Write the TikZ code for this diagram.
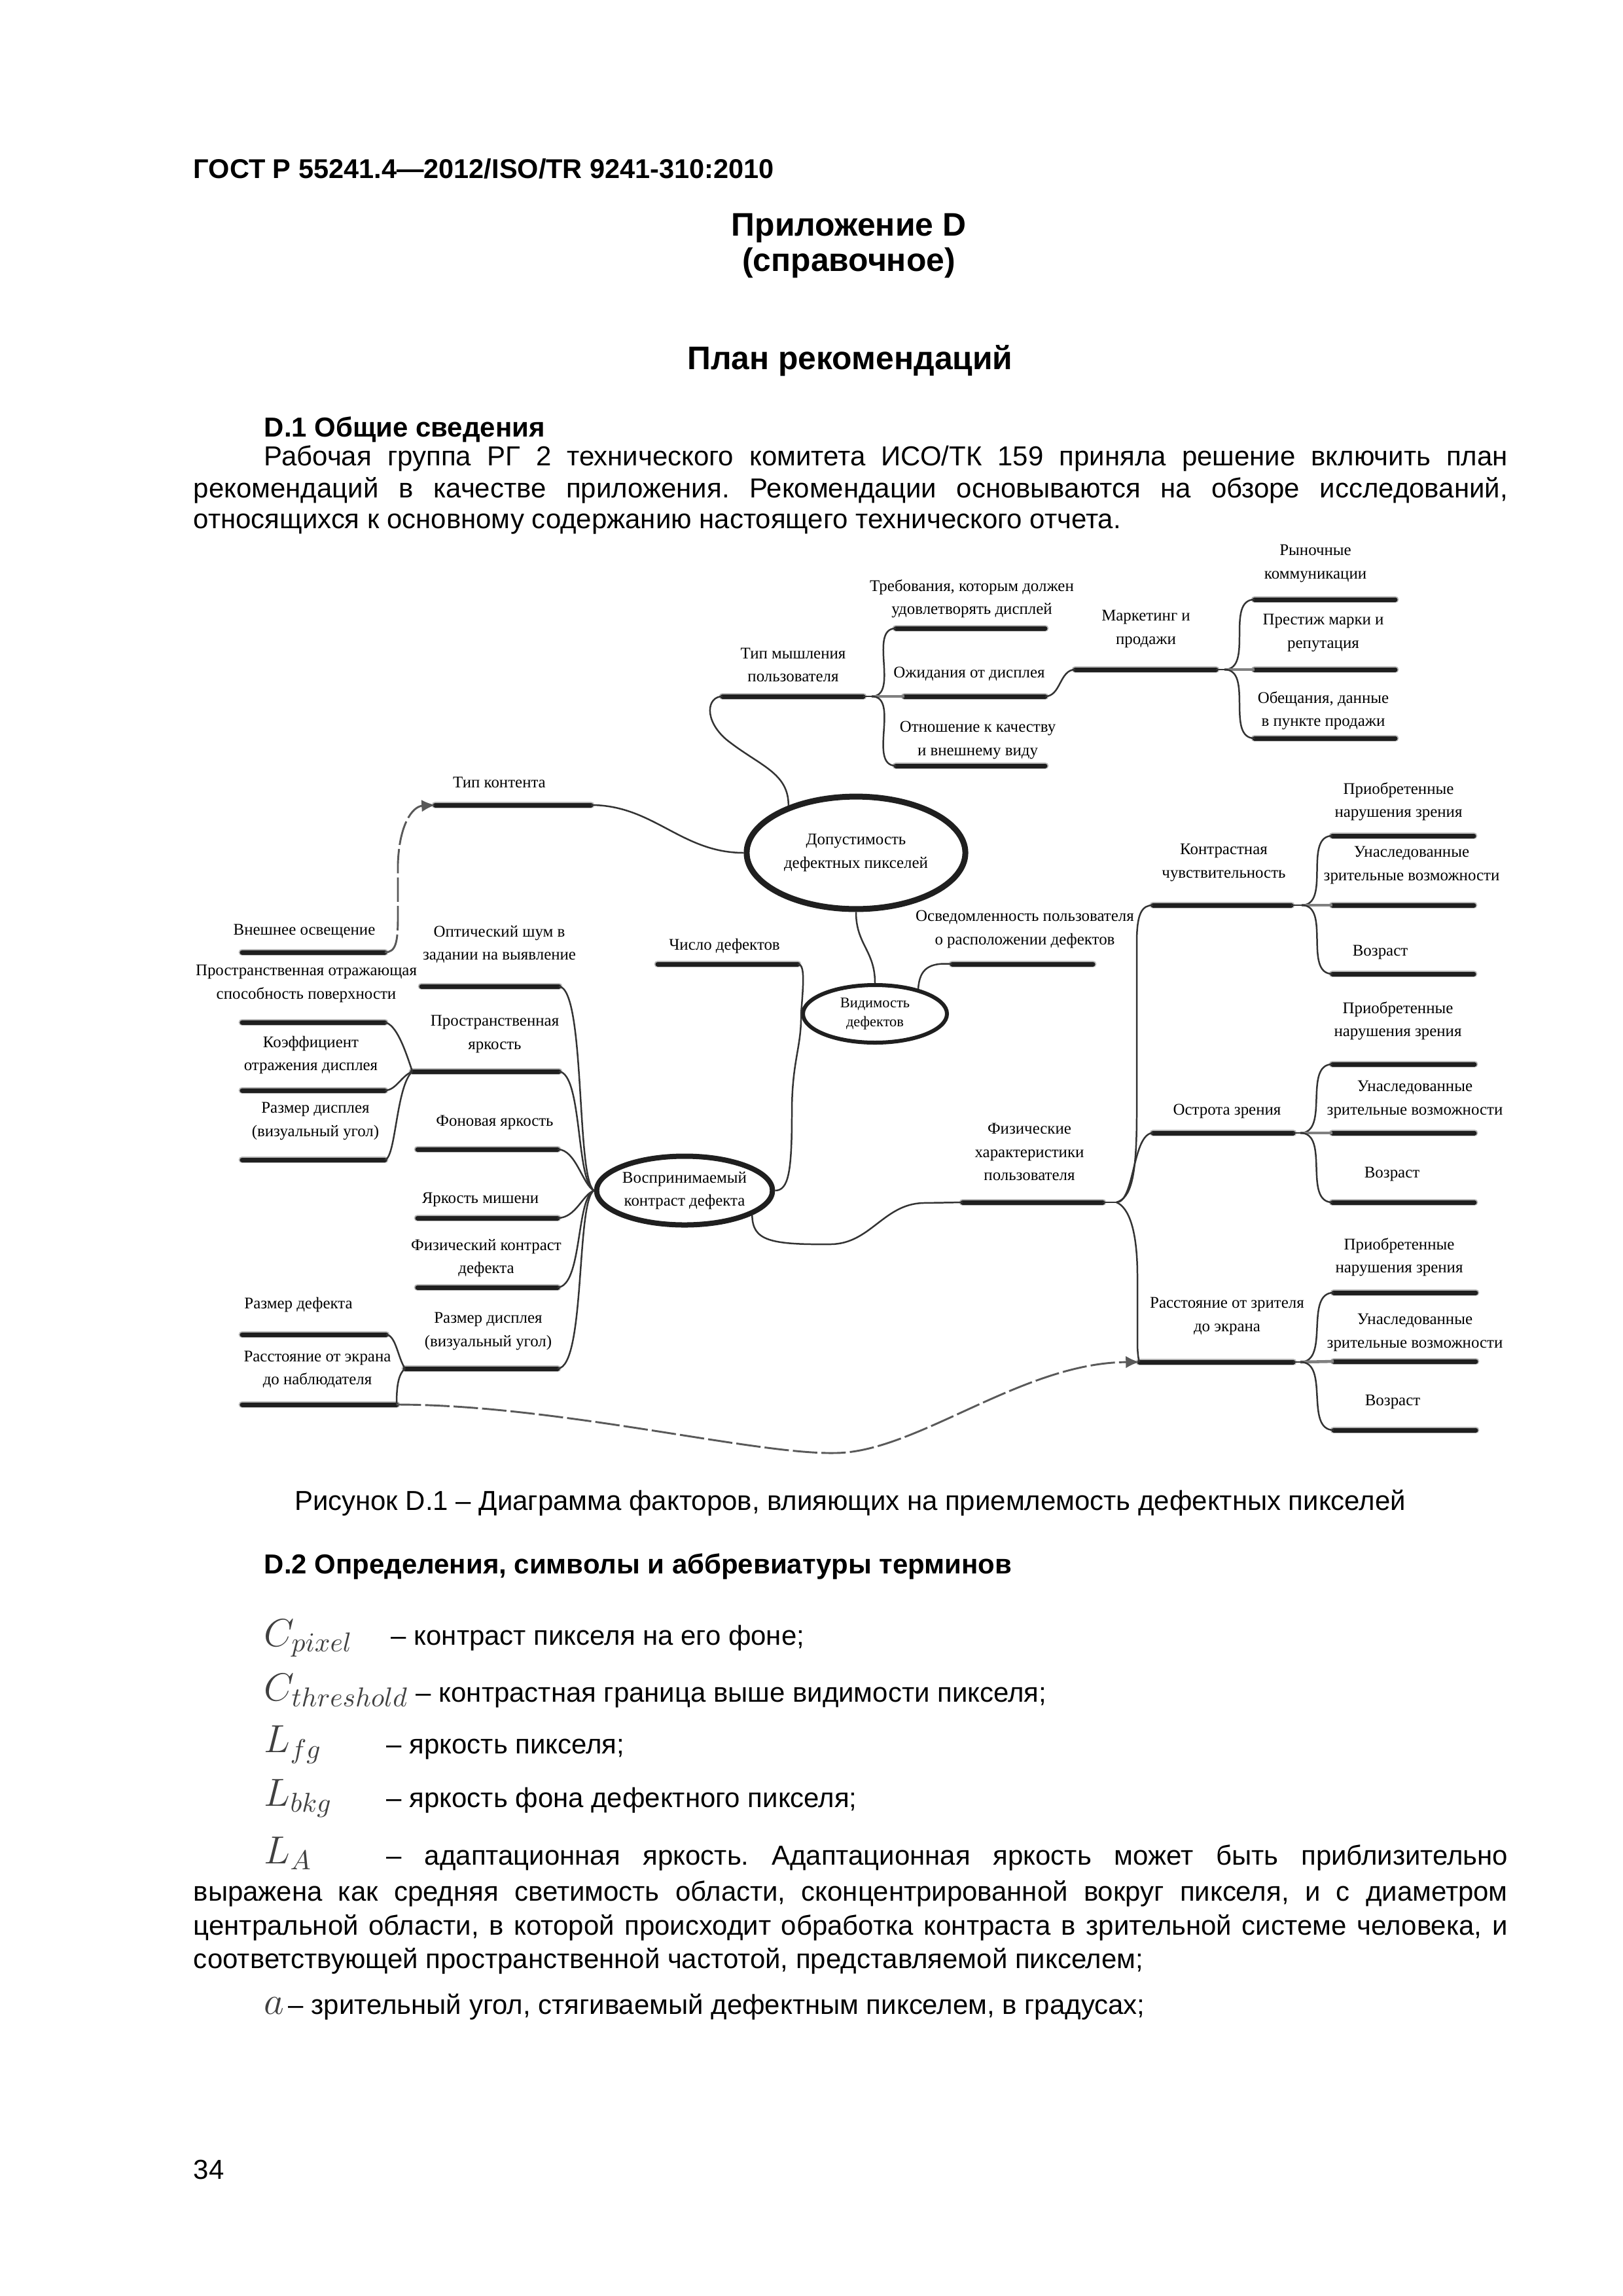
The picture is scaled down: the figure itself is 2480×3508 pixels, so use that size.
\documentclass[tikz,border=0pt]{standalone}
\usepackage{fontspec}
\setmainfont{Liberation Sans}
\newfontfamily\dgf{Liberation Serif}
\usetikzlibrary{shapes.geometric,arrows.meta}
\frenchspacing
\newcommand\fbar[7]{%
  \coordinate (#1L) at (#2,#4);
  \coordinate (#1R) at (#3,#4);
  \draw[barsh] (#1L) -- (#1R);
  \draw[bar] (#1L) -- (#1R);
  \node[lbl] (#1T) at (#5,#6) {#7};}
\begin{document}
\begin{tikzpicture}[x=0.2409pt,y=-0.2409pt,
  bar/.style={line width=1.69pt, black!88, line cap=round},
  barsh/.style={line width=2.6pt, black!28, line cap=round},
  conn/.style={line width=0.6pt, black!80},
  link/.style={line width=1.1pt, black!50},
  dsh/.style={line width=0.7pt, black!65, dash pattern=on 9pt off 1.5pt},
  lbl/.style={font=\dgf\fontsize{6.0}{8.5}\selectfont, align=center, inner sep=0pt},
  ell/.style={ellipse, draw=black!88, fill=white, inner sep=0pt, align=center, font=\dgf\fontsize{6.0}{8.5}\selectfont},
  body/.style={anchor=base west, inner sep=0pt, font=\fontsize{10.1}{12.2}\selectfont},
  head/.style={anchor=base west, inner sep=0pt, font=\bfseries\fontsize{10.1}{12.2}\selectfont},
  ttl/.style={anchor=base, inner sep=0pt, font=\bfseries\fontsize{12}{14}\selectfont},
  sym/.style={anchor=base west, inner sep=0pt, text=black!75, font=\fontsize{14}{16}\selectfont}
]
\useasboundingbox (0,0) rectangle (2480,3508);
\fill[white] (0,0) rectangle (2480,3508);

% ---------- page text ----------
\node[anchor=base west, inner sep=0pt, font=\bfseries\fontsize{10}{12}\selectfont] (hdr) at (295,272) {ГОСТ Р 55241.4—2012/ISO/TR 9241-310:2010};
\node[ttl] (t1) at (1297,360) {Приложение D};
\node[ttl] (t2) at (1297,414) {(справочное)};
\node[ttl] (t3) at (1299,564) {План рекомендаций};
\node[head] (h1) at (403,667) {D.1 Общие сведения};
\node[body] (p1) at (403,711) {\makebox[457.7pt][s]{Рабочая группа РГ 2 технического комитета ИСО/ТК 159 приняла решение включить план}};
\node[body] (p2) at (295,760) {\makebox[483.7pt][s]{рекомендаций в качестве приложения. Рекомендации основываются на обзоре исследований,}};
\node[body] (p3) at (295,807) {относящихся к основному содержанию настоящего технического отчета.};

\node[anchor=base, inner sep=0pt, font=\fontsize{10.1}{12.2}\selectfont] (cap) at (1299,2307) {Рисунок D.1 – Диаграмма факторов, влияющих на приемлемость дефектных пикселей};
\node[head] (h2) at (403,2404) {D.2 Определения, символы и аббревиатуры терминов};

\node[sym] (s1) at (403,2515) {$C_{pixel}$};
\node[body] (d1) at (597,2513) {– контраст пикселя на его фоне;};
\node[sym] (s2) at (403,2598) {$C_{threshold}$};
\node[body] (d2) at (635,2600) {– контрастная граница выше видимости пикселя;};
\node[sym] (s3) at (403,2677) {$L_{fg}$};
\node[body] (d3) at (590,2679) {– яркость пикселя;};
\node[sym] (s4) at (403,2759) {$L_{bkg}$};
\node[body] (d4) at (590,2761) {– яркость фона дефектного пикселя;};
\node[sym] (s5) at (403,2847) {$L_{A}$};
\node[body] (d5) at (590,2849) {\makebox[412.7pt][s]{– адаптационная яркость. Адаптационная яркость может быть приблизительно}};
\node[body] (d6) at (295,2904) {\makebox[483.7pt][s]{выражена как средняя светимость области, сконцентрированной вокруг пикселя, и с диаметром}};
\node[body] (d7) at (295,2956) {\makebox[483.7pt][s]{центральной области, в которой происходит обработка контраста в зрительной системе человека, и}};
\node[body] (d8) at (295,3007) {соответствующей пространственной частотой, представляемой пикселем;};
\node[sym] (s6) at (403,3077) {$a$};
\node[body] (d9) at (440,3077) {– зрительный угол, стягиваемый дефектным пикселем, в градусах;};
\node[body] (pg) at (295,3329) {34};

% ---------- ellipses ----------
\node[ell, line width=2.17pt, minimum width=80.5pt, minimum height=41.4pt] (E1) at (1308,1303) {Допустимость\\дефектных пикселей};
\node[ell, line width=1.45pt, minimum width=53pt, minimum height=21.2pt, font=\dgf\fontsize{5.4}{7.2}\selectfont] (E2) at (1337,1549) {Видимость\\дефектов};
\node[ell, line width=1.93pt, minimum width=63.1pt, minimum height=25.3pt] (E3) at (1046,1819) {Воспринимаемый\\контраст дефекта};

% ---------- bars with labels ----------
\fbar{ryn}{1917}{2132}{916}{2010}{861}{Рыночные\\коммуникации}
\fbar{prest}{1917}{2132}{1023}{2022}{967}{Престиж марки и\\репутация}
\fbar{obesch}{1917}{2132}{1128}{2022}{1086}{Обещания, данные\\в пункте продажи}
\fbar{mark}{1643}{1858}{1023}{1751}{961}{Маркетинг и\\продажи}
\fbar{treb}{1369}{1597}{960}{1485}{915}{Требования, которым должен\\удовлетворять дисплей}
\fbar{tipm}{1104}{1319}{1064}{1212}{1016}{Тип мышления\\пользователя}
\fbar{ozh}{1382}{1597}{1064}{1481}{1030}{Ожидания от дисплея}
\fbar{otn}{1369}{1597}{1170}{1494}{1131}{Отношение к качеству\\и внешнему виду}

\fbar{tipk}{665}{903}{1230}{763}{1195}{Тип контента}
\fbar{vnesh}{370}{588}{1455}{465}{1423}{Внешнее освещение}
\fbar{opt}{644}{854}{1507}{763}{1443}{Оптический шум в\\задании на выявление}
\fbar{psp}{370}{588}{1562}{468}{1503}{Пространственная отражающая\\способность поверхности}
\fbar{pya}{630}{854}{1637}{756}{1580}{Пространственная\\яркость}
\fbar{koef}{370}{588}{1666}{475}{1612}{Коэффициент\\отражения дисплея}
\fbar{rdl}{370}{588}{1772}{482}{1713}{Размер дисплея\\(визуальный угол)}
\fbar{fon}{638}{852}{1756}{756}{1715}{Фоновая яркость}
\fbar{yam}{638}{852}{1861}{734}{1833}{Яркость мишени}
\fbar{fk}{638}{852}{1967}{743}{1922}{Физический контраст\\дефекта}
\fbar{rdm}{619}{852}{2091}{746}{2034}{Размер дисплея\\(визуальный угол)}
\fbar{rdef}{370}{590}{2039}{456}{1993}{Размер дефекта}
\fbar{rek}{370}{606}{2146}{485}{2092}{Расстояние от экрана\\до наблюдателя}
\fbar{chd}{1005}{1219}{1473}{1107}{1445}{Число дефектов}
\fbar{osv}{1455}{1670}{1473}{1566}{1420}{Осведомленность пользователя\\о расположении дефектов}

\fbar{fiz}{1471}{1685}{1837}{1573}{1760}{Физические\\характеристики\\пользователя}
\fbar{kch}{1762}{1973}{1383}{1870}{1318}{Контрастная\\чувствительность}
\fbar{ka}{2036}{2252}{1277}{2137}{1225}{Приобретенные\\нарушения зрения}
\fbar{kb}{2036}{2252}{1383}{2157}{1322}{Унаследованные\\зрительные возможности}
\fbar{kc}{2036}{2252}{1488}{2109}{1455}{Возраст}
\fbar{ostr}{1762}{1976}{1731}{1875}{1698}{Острота зрения}
\fbar{oa}{2036}{2253}{1626}{2136}{1560}{Приобретенные\\нарушения зрения}
\fbar{ob}{2036}{2253}{1731}{2162}{1680}{Унаследованные\\зрительные возможности}
\fbar{oc}{2036}{2253}{1837}{2127}{1794}{Возраст}
\fbar{rz}{1741}{1976}{2081}{1875}{2011}{Расстояние от зрителя\\до экрана}
\fbar{ra}{2038}{2255}{1975}{2138}{1921}{Приобретенные\\нарушения зрения}
\fbar{rb}{2038}{2255}{2080}{2162}{2036}{Унаследованные\\зрительные возможности}
\fbar{rc}{2038}{2255}{2185}{2128}{2142}{Возраст}

% ---------- connectors: top ----------
\coordinate (M) at (1871,1023);
\draw[conn] (markR) -- (M);
\draw[conn] (M) to[out=0,in=180] (rynL);
\draw[link] (M) -- (prestL);
\draw[conn] (M) to[out=0,in=180] (obeschL);
\draw[conn] (ozhR) to[out=0,in=180] (markL);
\coordinate (T) at (1332,1064);
\draw[conn] (tipmR) -- (T);
\draw[conn] (T) to[out=0,in=180] (trebL);
\draw[link] (T) -- (ozhL);
\draw[conn] (T) to[out=0,in=180] (otnL);
\draw[conn] (tipmL) .. controls (1080,1064) and (1075,1100) .. (1110,1130) .. controls (1160,1170) and (1205,1180) .. (E1.145);

% ---------- connectors: centre ----------
\draw[conn] (tipkR) to[out=0,in=180] (E1.west);
\draw[conn] (E1.south) .. controls +(0,50) and +(0,-50) .. (E2.north);
\draw[conn] (chdR) .. controls (1230,1473) and (1228,1500) .. (E2.west);
\draw[conn] (E2.west) .. controls (1225,1600) and (1210,1620) .. (1210,1700) .. controls (1210,1790) and (1205,1819) .. (E3.east);
\draw[conn] (osvL) .. controls (1420,1470) and (1405,1480) .. (E2.30);
\draw[conn] (E3.-20) .. controls (1150,1895) and (1175,1902) .. (1270,1901) .. controls (1330,1900) and (1350,1840) .. (1410,1838) -- (fizL);

% ---------- connectors: right ----------
\coordinate (F) at (1706,1837);
\draw[conn] (fizR) -- (F);
\draw[conn] (F) .. controls (1728,1830) and (1737,1800) .. (1737,1700) -- (1737,1440) .. controls (1737,1395) and (1745,1383) .. (kchL);
\draw[conn] (F) .. controls +(28,0) and +(-32,0) .. (ostrL);
\draw[conn] (F) .. controls (1725,1845) and (1738,1880) .. (1738,1950) -- (1738,2050) .. controls (1738,2070) and (1740,2078) .. (rzL);
\coordinate (K) at (1989,1383);
\draw[conn] (kchR) -- (K);
\draw[conn] (K) to[out=0,in=180] (kaL);
\draw[link] (K) -- (kbL);
\draw[conn] (K) to[out=0,in=180] (kcL);
\coordinate (O) at (1987,1731);
\draw[conn] (ostrR) -- (O);
\draw[conn] (O) to[out=0,in=180] (oaL);
\draw[link] (O) -- (obL);
\draw[conn] (O) to[out=0,in=180] (ocL);
\coordinate (R) at (1987,2081);
\draw[conn] (rzR) -- (R);
\draw[conn] (R) to[out=0,in=180] (raL);
\draw[link] (R) -- (rbL);
\draw[conn] (R) to[out=0,in=180] (rcL);

% ---------- connectors: left ----------
\draw[conn] (optR) .. controls (895,1510) and (880,1800) .. (E3.west);
\draw[conn] (pyaR) .. controls (890,1640) and (880,1805) .. (E3.west);
\draw[conn] (fonR) .. controls (880,1756) and (890,1810) .. (E3.west);
\draw[conn] (yamR) .. controls (880,1861) and (890,1825) .. (E3.west);
\draw[conn] (fkR) .. controls (890,1965) and (880,1830) .. (E3.west);
\draw[conn] (rdmR) .. controls (895,2090) and (880,1835) .. (E3.west);
\draw[conn] (pspR) .. controls (605,1565) and (618,1600) .. (pyaL);
\draw[conn] (koefR) .. controls (605,1666) and (612,1645) .. (pyaL);
\draw[conn] (rdlR) .. controls (605,1770) and (605,1660) .. (pyaL);
\draw[conn] (rdefR) .. controls (605,2040) and (608,2075) .. (rdmL);
\draw[conn] (rekR) .. controls (606,2120) and (608,2100) .. (rdmL);

% ---------- dashed arrows ----------
\draw[dsh, -{Latex[length=5pt,width=4.5pt]}] (vneshR) .. controls (605,1455) and (608,1440) .. (608,1400) -- (608,1320) .. controls (610,1260) and (630,1232) .. (tipkL);
\draw[dsh, -{Latex[length=5pt,width=4.5pt]}] (rekR) .. controls (850,2146) and (1150,2222) .. (1275,2220) .. controls (1400,2220) and (1560,2082) .. (rzL);
\end{tikzpicture}
\end{document}
